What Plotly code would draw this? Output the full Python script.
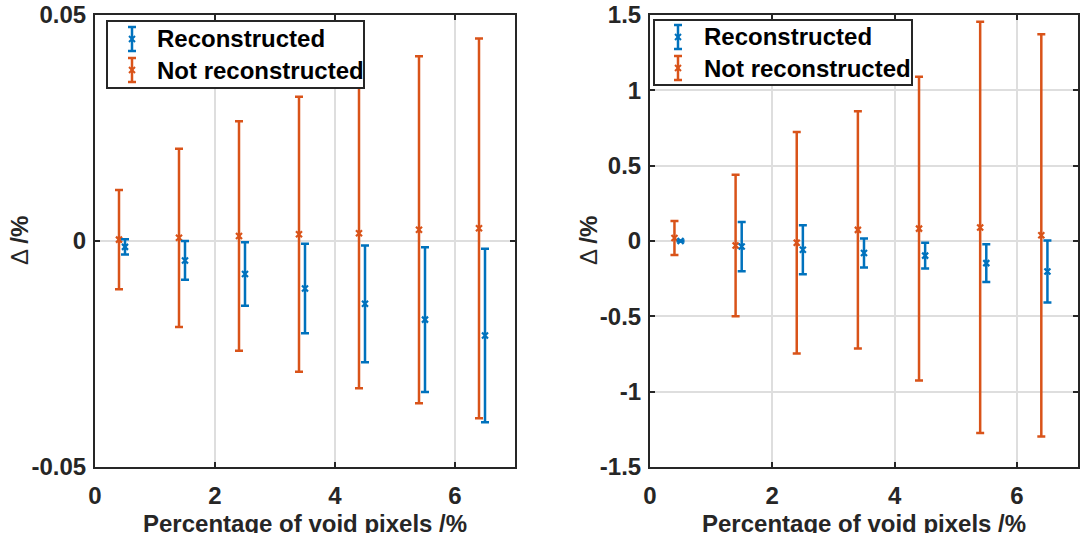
import plotly.graph_objects as go

# ---- data -------------------------------------------------------------
x_not_rec = [0.4, 1.4, 2.4, 3.4, 4.4, 5.4, 6.4]
x_rec = [0.5, 1.5, 2.5, 3.5, 4.5, 5.5, 6.5]

# left panel
left_not_rec_mean = [0.0003, 0.0007, 0.0011, 0.0015, 0.0017, 0.0025, 0.0028]
left_not_rec_err = [0.0110, 0.0197, 0.0254, 0.0304, 0.0343, 0.0384, 0.0420]
left_rec_mean = [-0.0013, -0.0043, -0.0073, -0.0105, -0.0139, -0.0174, -0.0209]
left_rec_err = [0.0017, 0.0043, 0.0070, 0.0099, 0.0129, 0.0160, 0.0192]

# right panel
right_not_rec_mean = [0.020, -0.030, -0.012, 0.074, 0.082, 0.090, 0.038]
right_not_rec_err = [0.113, 0.470, 0.735, 0.788, 1.008, 1.365, 1.335]
right_rec_mean = [0.000, -0.037, -0.058, -0.080, -0.097, -0.147, -0.203]
right_rec_err = [0.004, 0.163, 0.163, 0.096, 0.086, 0.125, 0.206]

# ticks
x_ticks = [0, 2, 4, 6]
x_ticktext = ["0", "2", "4", "6"]
left_yticks = [-0.05, 0, 0.05]
left_yticktext = ["-0.05", "0", "0.05"]
right_yticks = [-1.5, -1, -0.5, 0, 0.5, 1, 1.5]
right_yticktext = ["-1.5", "-1", "-0.5", "0", "0.5", "1", "1.5"]

series_names = ["Reconstructed", "Not reconstructed"]
x_title = "Percentage of void pixels /%"
y_title = "Δ <b>/%</b>"

# ---- styling ----------------------------------------------------------
W, H = 1081, 533
BLUE = "#0072BD"
ORANGE = "#D95319"
INK = "#262626"
GRID = "#DEDEDE"
FONT = "Liberation Sans"


def px(x):
    return x / W


def py(y):
    return 1 - y / H


fig = go.Figure()


def add_series(xs, ys, errs, color, xa, ya):
    fig.add_trace(go.Scatter(
        x=xs, y=ys, mode="markers", xaxis=xa, yaxis=ya, showlegend=False,
        marker=dict(symbol="x-thin", size=6, color=color,
                    line=dict(color=color, width=2.2)),
        error_y=dict(type="data", array=errs, visible=True, color=color,
                     thickness=2.5, width=4),
    ))


add_series(x_not_rec, left_not_rec_mean, left_not_rec_err, ORANGE, "x", "y")
add_series(x_rec, left_rec_mean, left_rec_err, BLUE, "x", "y")
add_series(x_not_rec, right_not_rec_mean, right_not_rec_err, ORANGE, "x2", "y2")
add_series(x_rec, right_rec_mean, right_rec_err, BLUE, "x2", "y2")

# panel boxes in pixels: left, right, top, bottom
panels = [(95, 515, 15, 467), (650, 1078, 15, 467)]

axis_common = dict(
    showline=True, mirror="ticks", linecolor=INK, linewidth=2,
    ticks="inside", ticklen=5, tickwidth=1.5, tickcolor=INK,
    showgrid=True, gridcolor=GRID, gridwidth=2, zeroline=False,
    tickfont=dict(family=FONT, size=24, color=INK, weight="bold"),
    tickmode="array", automargin=False,
)

(l0, r0, t0, b0), (l1, r1, t1, b1) = panels
fig.update_layout(
    xaxis=dict(axis_common, domain=[px(l0), px(r0)], range=[0, 7],
               tickvals=x_ticks, ticktext=x_ticktext, anchor="y",
               ticklabelstandoff=6),
    yaxis=dict(axis_common, domain=[py(b0), py(t0)], range=[-0.05, 0.05],
               tickvals=left_yticks, ticktext=left_yticktext, anchor="x",
               ticklabelstandoff=2),
    xaxis2=dict(axis_common, domain=[px(l1), px(r1)], range=[0, 7],
                tickvals=x_ticks, ticktext=x_ticktext, anchor="y2",
                ticklabelstandoff=6),
    yaxis2=dict(axis_common, domain=[py(b1), py(t1)], range=[-1.5, 1.5],
                tickvals=right_yticks, ticktext=right_yticktext, anchor="x2",
                ticklabelstandoff=2),
)

shapes = []
annotations = []

# axis titles
for (l, r, t, b), tx in [((l0, r0, t0, b0), 19), ((l1, r1, t1, b1), 588)]:
    annotations.append(dict(
        text=x_title, x=px((l + r) / 2), y=py(523), xref="paper", yref="paper",
        xanchor="center", yanchor="middle", showarrow=False,
        font=dict(family=FONT, size=24, color=INK, weight="bold")))
    annotations.append(dict(
        text=y_title, x=px(tx), y=py((t + b) / 2), xref="paper", yref="paper",
        xanchor="center", yanchor="middle", showarrow=False, textangle=-90,
        font=dict(family=FONT, size=24, color=INK)))

# legends: box, error-bar glyph and label for each series
legend_boxes = [
    dict(box=(107, 364, 21, 88), icon_x=132, text_x=155, rows=(39, 70)),
    dict(box=(654, 912, 20, 85), icon_x=678, text_x=702, rows=(37, 68)),
]
for lg in legend_boxes:
    bl, br, bt, bb = lg["box"]
    shapes.append(dict(type="rect", xref="paper", yref="paper",
                       x0=px(bl), x1=px(br), y0=py(bb), y1=py(bt),
                       fillcolor="white", line=dict(color=INK, width=2),
                       layer="above"))
    for name, color, cy in zip(series_names, [BLUE, ORANGE], lg["rows"]):
        ix = lg["icon_x"]
        half = 12
        line = dict(color=color, width=2.5)
        shapes.append(dict(type="line", xref="paper", yref="paper", layer="above",
                           x0=px(ix), x1=px(ix), y0=py(cy - half), y1=py(cy + half),
                           line=line))
        for cap in (cy - half, cy + half):
            shapes.append(dict(type="line", xref="paper", yref="paper", layer="above",
                               x0=px(ix - 4), x1=px(ix + 4), y0=py(cap), y1=py(cap),
                               line=line))
        for sgn in (1, -1):
            shapes.append(dict(type="line", xref="paper", yref="paper", layer="above",
                               x0=px(ix - 3), x1=px(ix + 3),
                               y0=py(cy - 3 * sgn), y1=py(cy + 3 * sgn),
                               line=dict(color=color, width=2)))
        annotations.append(dict(
            text=name, x=px(lg["text_x"]), y=py(cy), xref="paper", yref="paper",
            xanchor="left", yanchor="middle", showarrow=False,
            font=dict(family=FONT, size=24, color="black", weight="bold")))

fig.update_layout(
    width=W, height=H, autosize=False,
    margin=dict(l=0, r=0, t=0, b=0, autoexpand=False),
    paper_bgcolor="white", plot_bgcolor="white",
    shapes=shapes, annotations=annotations,
)

fig.write_html("out.html")
